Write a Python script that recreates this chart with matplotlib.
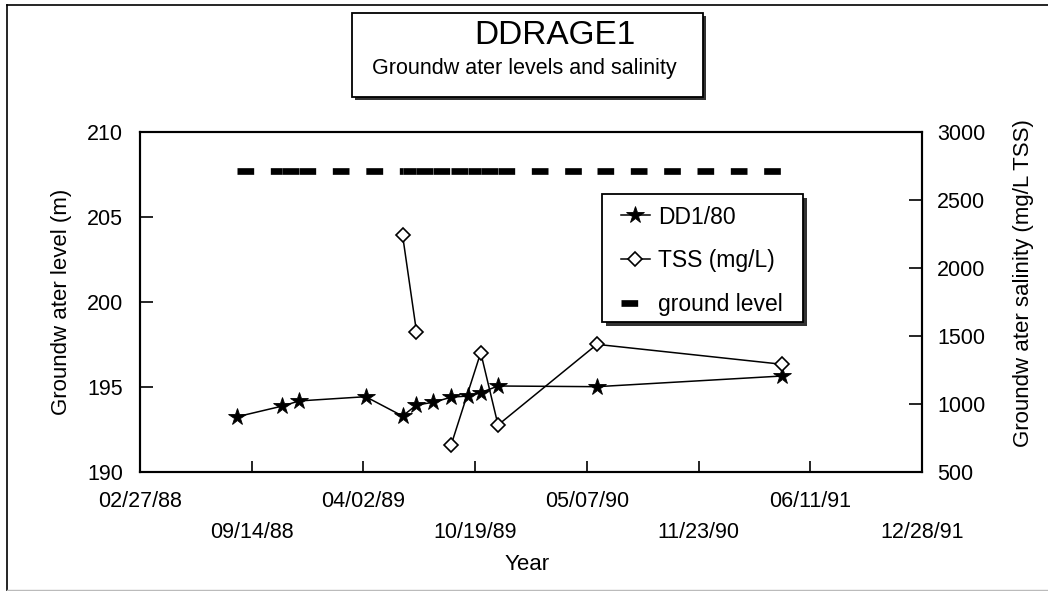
import numpy as np
import pandas as pd
import matplotlib
matplotlib.use("Agg")
import matplotlib.pyplot as plt
import matplotlib.dates as mdates
from matplotlib.lines import Line2D
from matplotlib.patches import Rectangle

plt.rcParams['font.family'] = ['Liberation Sans', 'DejaVu Sans']

# Bore DD1/80 water level readings (m)
level_dates = ['1988-08-19', '1988-11-08', '1988-12-08', '1989-04-06', '1989-06-11',
               '1989-07-06', '1989-08-05', '1989-09-06', '1989-10-06', '1989-10-29',
               '1989-11-29', '1990-05-25', '1991-04-22']
level_m = [193.24, 193.87, 194.17, 194.42, 193.28, 193.93, 194.09, 194.39, 194.46,
           194.66, 195.05, 195.01, 195.64]
ground_level_m = 207.7

# Salinity samples (mg/L TSS); no sample joins the first two to the rest
tss_dates = ['1989-06-11', '1989-07-06', '1989-09-06', '1989-10-29', '1989-11-29',
             '1990-05-25', '1991-04-22']
tss_mgl = [2244, 1531, 697, 1377, 844, 1438, 1291]
tss_break_after = 2

xtick_labels = ['02/27/88', '09/14/88', '04/02/89', '10/19/89', '05/07/90',
                '11/23/90', '06/11/91', '12/28/91']
left_ticks = [190, 195, 200, 205, 210]
right_ticks = [500, 1000, 1500, 2000, 2500, 3000]

W, H = 1048, 591
TICK_FS = 15.5
LABEL_FS = 16


def fx(px):
    return px / W


def fy(py):
    return 1 - py / H


def boxed(target, x0, y0, x1, y1, shadow, zorder):
    """Framed white box with a dark drop shadow, given in pixel corners."""
    w, h = (x1 - x0) / W, (y1 - y0) / H
    target.add_artist(Rectangle((fx(x0 + shadow), fy(y1 + shadow)), w, h,
                                transform=fig.transFigure, fc='#333333', ec='none',
                                zorder=zorder, clip_on=False))
    target.add_artist(Rectangle((fx(x0), fy(y1)), w, h, transform=fig.transFigure,
                                fc='white', ec='black', lw=1.3, zorder=zorder,
                                clip_on=False))


fig = plt.figure(figsize=(W / 100, H / 100), dpi=100)
ax = fig.add_axes([fx(140), fy(471.7), 782 / W, 339.4 / H])
ax2 = ax.twinx()

lx = mdates.date2num(pd.to_datetime(level_dates))
tx = mdates.date2num(pd.to_datetime(tss_dates))
tick_x = mdates.date2num(pd.to_datetime(xtick_labels, format='%m/%d/%y'))

# ground level drawn point to point so the dash pattern restarts at each reading
ground_handle = None
for i in range(len(lx) - 1):
    seg, = ax.plot(lx[i:i + 2], [ground_level_m, ground_level_m], color='black',
                   lw=4.8, linestyle=(0, (2.5, 2.5)), solid_capstyle='butt',
                   dash_capstyle='butt')
    if ground_handle is None:
        ground_handle = seg

dd_line, = ax.plot(lx, level_m, color='black', lw=1.1, marker='*', ms=13,
                   mfc='black', mec='black', mew=0.6, zorder=3)

tss_line = None
for run in np.split(np.arange(len(tx)), [tss_break_after]):
    ln, = ax2.plot(tx[run], np.array(tss_mgl)[run], color='black', lw=1.1,
                   marker='D', ms=7.5, mfc='white', mec='black', mew=1.2, zorder=3)
    tss_line = tss_line or ln

ax.set_xlim(tick_x[0], tick_x[-1])
ax.set_ylim(190, 210)
ax2.set_ylim(500, 3000)

# staggered date labels: even ticks on the first row, odd ticks below
ax.set_xticks(tick_x[0::2])
ax.set_xticklabels(xtick_labels[0::2])
ax.set_xticks(tick_x[1::2], minor=True)
ax.set_xticklabels(xtick_labels[1::2], minor=True)
ax.tick_params(axis='x', which='major', direction='in', length=8, width=1.2,
               pad=14, labelsize=TICK_FS)
ax.tick_params(axis='x', which='minor', direction='in', length=8, width=1.2,
               pad=36, labelsize=TICK_FS)

ax.set_yticks(left_ticks)
ax2.set_yticks(right_ticks)
ax.tick_params(axis='y', direction='in', length=9.5, width=1.2, pad=12, labelsize=TICK_FS)
ax2.tick_params(axis='y', direction='in', length=9.5, width=1.2, pad=11, labelsize=TICK_FS)

for a in (ax, ax2):
    for s in a.spines.values():
        s.set_linewidth(1.5)

ax.set_ylabel('Groundw ater level (m)', fontsize=LABEL_FS)
ax.yaxis.set_label_coords(-0.087, 0.5)
ax2.set_ylabel('Groundw ater salinity (mg/L TSS)', fontsize=LABEL_FS)
ax2.yaxis.set_label_coords(1.1164, 0.556)
ax.set_xlabel('Year', fontsize=LABEL_FS)
ax.xaxis.set_label_coords((527 - 140) / 782, -(554 - 471.7) / 339.4)

# legend entries without frame; the frame and shadow are drawn as a box behind
boxed(ax2, 601.7, 194, 802.7, 321.7, 4, 4)
leg = ax2.legend([dd_line, tss_line, ground_handle],
                 ['DD1/80', 'TSS (mg/L)', 'ground level'],
                 loc='upper left', bbox_to_anchor=(fx(620.7), fy(205.5)),
                 bbox_transform=fig.transFigure, borderaxespad=0, borderpad=0,
                 fontsize=16.5, frameon=False, numpoints=1, handlelength=1.27,
                 handletextpad=0.35, labelspacing=0.9)
leg.set_zorder(5)

# outer chart border
fig.add_artist(Line2D([fx(7), fx(7)], [0, fy(5)], transform=fig.transFigure,
                      color='black', lw=1.2))
fig.add_artist(Line2D([fx(7), 1], [fy(5), fy(5)], transform=fig.transFigure,
                      color='black', lw=1.2))
fig.add_artist(Line2D([fx(7), 1], [fy(589.5), fy(589.5)], transform=fig.transFigure,
                      color='#bbbbbb', lw=1.0))

# title box with drop shadow
boxed(fig, 352, 13, 703, 97, 3, 1)
fig.text(fx(555), fy(36), 'DDRAGE1', ha='center', va='center', fontsize=24)
fig.text(fx(524), fy(68.5), 'Groundw ater levels and salinity', ha='center',
         va='center', fontsize=15.5)

fig.savefig('out.png', dpi=100)
